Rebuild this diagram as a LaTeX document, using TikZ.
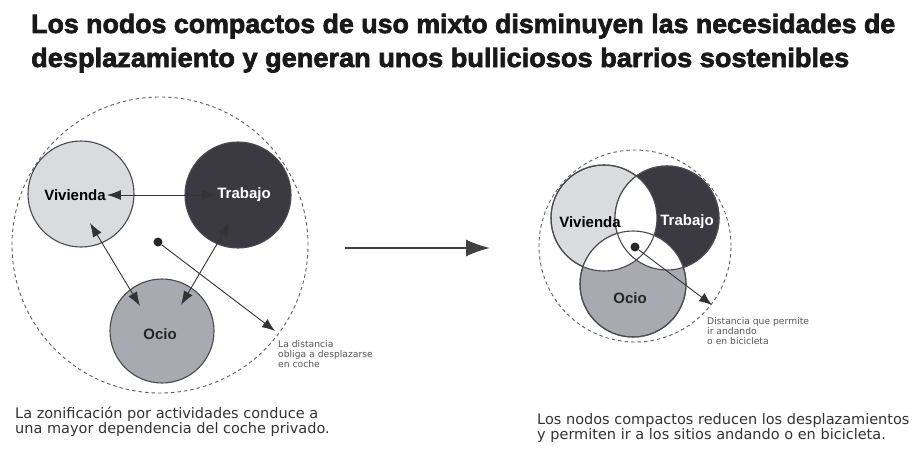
\documentclass[tikz,border=0pt]{standalone}
\usepackage{fontspec}
\setmainfont{Liberation Sans}
\newfontfamily\titlefont{Liberation Sans Bold}[FakeBold=2.5]
\newfontfamily\capfont{DejaVu Sans}
\usepackage{graphicx}
\usetikzlibrary{arrows.meta}
\definecolor{vivfill}{HTML}{DADBDF}
\definecolor{trabfill}{HTML}{3B3942}
\definecolor{ociofill}{HTML}{A8A9B1}
\definecolor{outl}{HTML}{4A4A4E}
\definecolor{dashc}{HTML}{5E5E62}
\definecolor{txtc}{HTML}{333333}
\definecolor{smallc}{HTML}{555555}
\tikzset{
  zone/.style={circle, inner sep=0pt, draw=outl, line width=1.1pt},
  outer/.style={circle, inner sep=0pt, draw=dashc, line width=0.9pt, dash pattern=on 3.5pt off 3pt},
  dotnode/.style={circle, inner sep=0pt, minimum size=9pt, fill=black!85},
  zlabel/.style={font=\bfseries\fontsize{15}{17}\selectfont, inner sep=1pt},
  twoway/.style={{Latex[length=14pt,width=10pt]}-{Latex[length=14pt,width=10pt]}, draw=black!80, line width=0.9pt},
  oneway/.style={-{Latex[length=13pt,width=10pt]}, draw=black!80, line width=0.9pt},
  bigarrow/.style={-{Latex[length=24pt,width=17pt]}, draw=black!75, line width=1.8pt},
  small/.style={font=\capfont\fontsize{9.2}{10}\selectfont, text=smallc, align=left, inner sep=0pt},
  caption/.style={font=\capfont\fontsize{14.5}{15}\selectfont, text=txtc, align=left, inner sep=0pt},
  titleline/.style={font=\titlefont\fontsize{26.5}{32}\selectfont, text=black!90, inner sep=0pt}
}
\begin{document}
\begin{tikzpicture}[x=1pt,y=-1pt]
\useasboundingbox[fill=white] (0,0) rectangle (915,452);

% title
\node[titleline, anchor=base west] (t1) at (31,33) {\resizebox{864pt}{\height}{Los nodos compactos de uso mixto disminuyen las necesidades de}};
\node[titleline, anchor=base west] (t2) at (31,67) {\resizebox{818pt}{\height}{desplazamiento y generan unos bulliciosos barrios sostenibles}};

% ---------- left diagram ----------
\node[outer, minimum size=296pt] (outL) at (160,245) {};
\node[zone, fill=vivfill, minimum size=106pt] (vivL) at (81,194) {};
\node[zone, fill=trabfill, minimum size=106pt] (trabL) at (238,195) {};
\node[zone, fill=ociofill, minimum size=104pt] (ocioL) at (162,331) {};
\node[zlabel, text=black] (vivLt) at (75,195) {Vivienda};
\node[zlabel, text=white] (trabLt) at (244,195) {Trabajo};
\node[zlabel, text=black!85] (ocioLt) at (160,334) {Ocio};
\node[dotnode] (dotL) at (158,242) {};

\coordinate (vo1) at (90,223);
\coordinate (vo2) at (140,306);
\coordinate (to1) at (230,222);
\coordinate (to2) at (181,305);
\coordinate (dL) at (275,331);
\draw[twoway] (vivLt.east) -- (trabLt.west);
\draw[twoway] (vo1) -- (vo2);
\draw[twoway] (to1) -- (to2);
\draw[oneway] (dotL) -- (dL);
\node[small, anchor=north west] (labL) at (278,340) {La distancia\\obliga a desplazarse\\en coche};

\node[caption, anchor=base west] (capL) at (15,433) {La zonificación por actividades conduce a\\una mayor dependencia del coche privado.};

% middle arrow
\coordinate (ma1) at (345,248);
\coordinate (ma2) at (490,248);
\draw[bigarrow] (ma1) -- (ma2);

% ---------- right diagram ----------
\node[outer, minimum size=192pt] (outR) at (635,246) {};
\node[zone, fill=vivfill, minimum size=106pt] (vivR) at (604,218) {};
\node[zone, fill=trabfill, minimum size=104pt] (trabR) at (667,218) {};
\node[zone, fill=ociofill, minimum size=106pt] (ocioR) at (633,284) {};
\begin{scope}
  \clip (vivR.center) circle[radius=53pt];
  \fill[white] (trabR.center) circle[radius=52pt];
  \fill[white] (ocioR.center) circle[radius=53pt];
\end{scope}
\begin{scope}
  \clip (trabR.center) circle[radius=52pt];
  \fill[white] (ocioR.center) circle[radius=53pt];
\end{scope}
\draw[outl, line width=1.1pt] (vivR.center) circle[radius=53pt];
\draw[outl, line width=1.1pt] (trabR.center) circle[radius=52pt];
\draw[outl, line width=1.1pt] (ocioR.center) circle[radius=53pt];
\node[zlabel, text=black] (vivRt) at (590,222) {Vivienda};
\node[zlabel, text=white] (trabRt) at (687,222) {Trabajo};
\node[zlabel, text=black!85] (ocioRt) at (630,298) {Ocio};
\node[dotnode] (dotR) at (635,247) {};
\coordinate (dR) at (712,305);
\draw[oneway] (dotR) -- (dR);
\node[small, anchor=north west] (labR) at (707,317) {Distancia que permite\\ir andando\\o en bicicleta};

\node[caption, anchor=base west] (capR) at (537,439) {Los nodos compactos reducen los desplazamientos\\y permiten ir a los sitios andando o en bicicleta.};
\end{tikzpicture}
\end{document}
